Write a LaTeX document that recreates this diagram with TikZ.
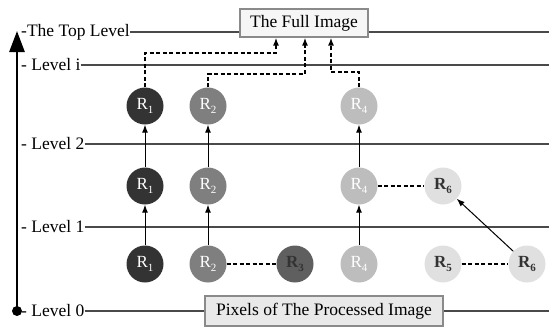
\documentclass[tikz,border=0pt]{standalone}
\usepackage{fontspec}
\setmainfont{Liberation Serif}
\usetikzlibrary{arrows.meta}

\definecolor{rone}{HTML}{333333}
\definecolor{rtwo}{HTML}{7F7F7F}
\definecolor{rthree}{HTML}{5F5F5F}
\definecolor{rfour}{HTML}{BDBDBD}
\definecolor{rfive}{HTML}{E0E0E0}
\definecolor{lvlline}{HTML}{4A4A4A}
\definecolor{boxedge}{HTML}{8A8A8A}
\definecolor{darktext}{HTML}{333333}

% region label: R with a lowered small index
\newcommand\regl[1]{R\raisebox{-0.22em}{\fontsize{11}{11}\selectfont #1}}

\tikzset{
  region/.style={circle, minimum size=37pt, inner sep=0pt, font=\fontsize{17}{20}\selectfont},
  lighttxt/.style={region, text=white},
  boldtxt/.style={region, text=darktext, font=\fontsize{17}{20}\selectfont\bfseries},
  lvltext/.style={anchor=west, inner sep=0pt, font=\fontsize{17.5}{20}\selectfont},
  lvlrule/.style={draw=lvlline, line width=1.2pt},
  infobox/.style={draw=boxedge, line width=1.2pt, inner sep=0pt, font=\fontsize{17.5}{20}\selectfont},
  up/.style={draw, line width=1pt, -{Latex[length=8pt,width=6pt]}},
  link/.style={draw, line width=1.4pt, dash pattern=on 4pt off 2.5pt},
  linkup/.style={link, -{Latex[length=8pt,width=6pt]}}
}

\begin{document}
\begin{tikzpicture}[x=1pt, y=-1pt]
\useasboundingbox (0,0) rectangle (549,327);

% boxes for the whole image and the pixel level
\node[infobox, fill=gray!7, minimum width=128pt, minimum height=28pt] (full) at (304,23) {The Full Image};
\node[infobox, fill=gray!17, minimum width=238pt, minimum height=30pt] (pix) at (324,311) {Pixels of The Processed Image};

% level labels and rules
\node[lvltext] (ltop) at (21,32) {-The Top Level};
\node[lvltext] (li) at (21,65) {- Level i};
\node[lvltext] (l2) at (21,144) {- Level 2};
\node[lvltext] (l1) at (21,227) {- Level 1};
\node[lvltext] (l0) at (21,311) {- Level 0};

\coordinate (etop) at (549,32);
\coordinate (ei) at (549,65);
\coordinate (e2) at (549,144);
\coordinate (e1) at (549,227);
\coordinate (e0) at (549,311);

\draw[lvlrule] (ltop.east) -- (ltop.east -| full.west);
\draw[lvlrule] (ltop.east -| full.east) -- (etop);
\draw[lvlrule] (li.east) -- (ei);
\draw[lvlrule] (l2.east) -- (e2);
\draw[lvlrule] (l1.east) -- (e1);
\draw[lvlrule] (l0.east) -- (pix.west);
\draw[lvlrule] (pix.east) -- (e0);

% vertical level axis
\coordinate (abot) at (17,311);
\coordinate (atop) at (17,31);
\draw[line width=2.8pt, -{Triangle[length=21pt,width=15pt]}] (abot) -- (atop);
\fill (abot) circle (5pt);

% regions, bottom row
\node[lighttxt, fill=rone] (a1) at (145,264) {\regl{1}};
\node[lighttxt, fill=rtwo] (a2) at (208,264) {\regl{2}};
\node[boldtxt, fill=rthree] (a3) at (295,264) {\regl{3}};
\node[lighttxt, fill=rfour] (a4) at (359,264) {\regl{4}};
\node[boldtxt, fill=rfive] (a5) at (443,264) {\regl{5}};
\node[boldtxt, fill=rfive] (a6) at (527,264) {\regl{6}};

% regions, middle row
\node[lighttxt, fill=rone] (b1) at (145,186) {\regl{1}};
\node[lighttxt, fill=rtwo] (b2) at (208,186) {\regl{2}};
\node[lighttxt, fill=rfour] (b4) at (359,186) {\regl{4}};
\node[boldtxt, fill=rfive] (b6) at (443,186) {\regl{6}};

% regions, top row
\node[lighttxt, fill=rone] (c1) at (145,106) {\regl{1}};
\node[lighttxt, fill=rtwo] (c2) at (208,106) {\regl{2}};
\node[lighttxt, fill=rfour] (c4) at (359,106) {\regl{4}};

% merging between levels
\draw[up] (a1) -- (b1);
\draw[up] (b1) -- (c1);
\draw[up] (a2) -- (b2);
\draw[up] (b2) -- (c2);
\draw[up] (a4) -- (b4);
\draw[up] (b4) -- (c4);
\draw[up] (a6) -- (b6);

% neighbouring regions
\draw[link] (a2) -- (a3);
\draw[link] (a5) -- (a6);
\draw[link] (b4) -- (b6);

% routes to the full image
\coordinate (k1) at (276,53);
\coordinate (k2) at (305,74);
\coordinate (k4) at (331,72);
\draw[linkup] (c1.north) |- (k1) -- (k1 |- full.south);
\draw[linkup] (c2.north) |- (k2) -- (k2 |- full.south);
\draw[linkup] (c4.north) |- (k4) -- (k4 |- full.south);
\end{tikzpicture}
\end{document}
